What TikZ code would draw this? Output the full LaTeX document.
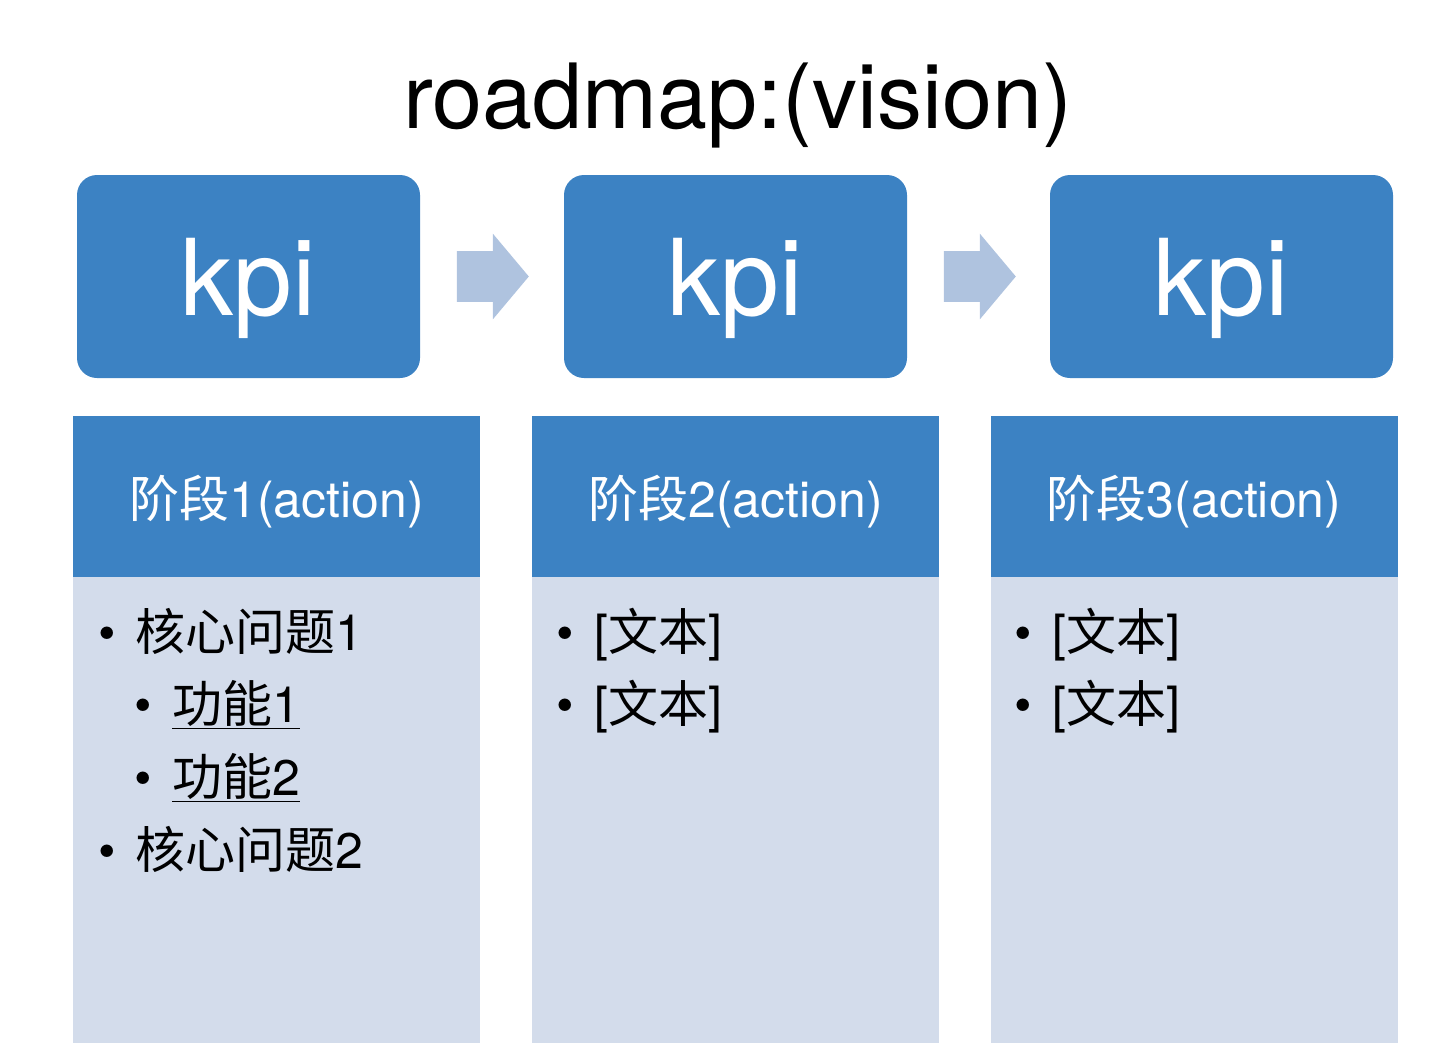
\documentclass[tikz,border=0pt]{standalone}
\usepackage{fontspec}
\setmainfont{TeX Gyre Heros}
\newfontfamily\cjk{Noto Sans CJK SC}
\usetikzlibrary{positioning,calc,shapes.arrows}
\definecolor{kpiblue}{HTML}{3C82C3}
\definecolor{bodyblue}{HTML}{D3DCEB}
\definecolor{arrowblue}{HTML}{AFC3DF}
\newcommand{\zhtext}[1]{{\cjk #1}}
\tikzset{
	kpibox/.style={fill=kpiblue, rounded corners=10pt, minimum width=171.5pt, minimum height=101.5pt,
		inner sep=0pt, text=white, font=\fontsize{53}{60}\selectfont, text height=38.5pt, text depth=0pt},
	stagebox/.style={fill=kpiblue, minimum width=203.5pt, minimum height=80.5pt,
		inner sep=0pt, text=white, font=\fontsize{25}{30}\selectfont, text height=20.5pt, text depth=0pt},
	bodybox/.style={fill=bodyblue, minimum width=203.5pt, minimum height=233pt, inner sep=0pt},
	flowarrow/.style={single arrow, fill=arrowblue, anchor=tail, minimum height=36pt, inner xsep=0pt,
		inner ysep=12.5pt, single arrow head extend=8.75pt, single arrow tip angle=100},
	item/.style={anchor=base west, inner sep=0pt, font=\fontsize{25}{30}\selectfont},
	dot/.style={anchor=base, inner sep=0pt, font=\fontsize{25}{30}\selectfont}
}
\begin{document}
\begin{tikzpicture}[x=0.5pt,y=-0.5pt]
	\useasboundingbox (0,0) rectangle (1446,1060);

	% title
	\node[anchor=base, inner sep=0pt, font=\fontsize{45}{54}\selectfont] (title) at (738,128) {roadmap:(vision)};

	% kpi row
	\node[kpibox] (kpiA) at (248.5,276.5) {kpi};
	\node[kpibox] (kpiB) at (735.5,276.5) {kpi};
	\node[kpibox] (kpiC) at (1221.5,276.5) {kpi};

	\node[flowarrow] (arrAB) at ($(kpiA.east)+(36,0)$) {};
	\node[flowarrow] (arrBC) at ($(kpiB.east)+(36,0)$) {};

	% stages
	\node[bodybox] (bodyA) at (276.5,810) {};
	\node[bodybox] (bodyB) at (735.5,810) {};
	\node[bodybox] (bodyC) at (1194,810) {};

	\node[stagebox] (stageA) at (276.5,496.5) {\zhtext{阶段}1(action)};
	\node[stagebox] (stageB) at (735.5,496.5) {\zhtext{阶段}2(action)};
	\node[stagebox] (stageC) at (1194,496.5) {\zhtext{阶段}3(action)};

	% items of stage 1
	\node[dot] (dotA1) at (107,650) {\textbullet};
	\node[item] (itemA1) at (135,650) {\zhtext{核心问题}1};
	\node[dot] (dotA2) at (143,722) {\textbullet};
	\node[item] (itemA2) at (172,722) {\underline{\zhtext{功能}1}};
	\node[dot] (dotA3) at (143,795) {\textbullet};
	\node[item] (itemA3) at (172,795) {\underline{\zhtext{功能}2}};
	\node[dot] (dotA4) at (107,868) {\textbullet};
	\node[item] (itemA4) at (135,868) {\zhtext{核心问题}2};

	% items of stage 2
	\node[dot] (dotB1) at (565,650) {\textbullet};
	\node[item] (itemB1) at (594,650) {[\zhtext{文本}]};
	\node[dot] (dotB2) at (565,722) {\textbullet};
	\node[item] (itemB2) at (594,722) {[\zhtext{文本}]};

	% items of stage 3
	\node[dot] (dotC1) at (1023,650) {\textbullet};
	\node[item] (itemC1) at (1052,650) {[\zhtext{文本}]};
	\node[dot] (dotC2) at (1023,722) {\textbullet};
	\node[item] (itemC2) at (1052,722) {[\zhtext{文本}]};
\end{tikzpicture}
\end{document}
